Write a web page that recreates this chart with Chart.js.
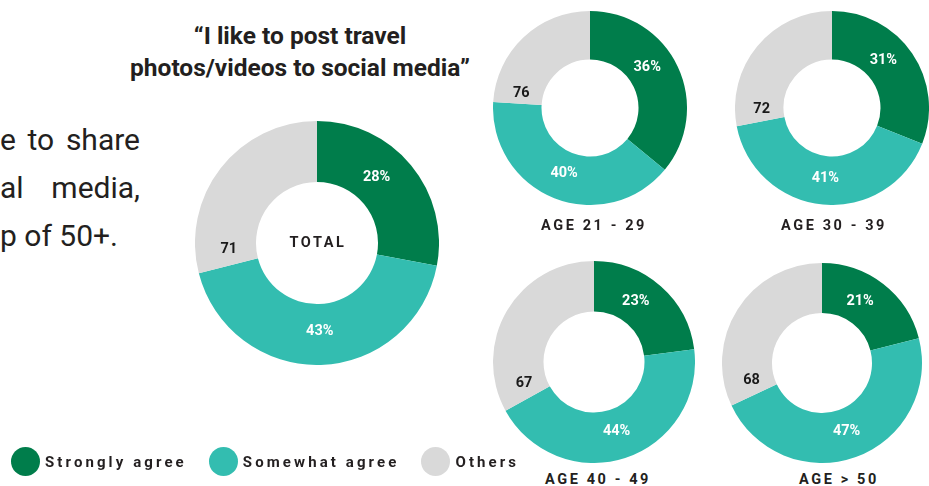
<!DOCTYPE html>
<html lang="en">
<head>
<meta charset="UTF-8">
<title>Travel posting by age</title>
<script src="https://cdn.jsdelivr.net/npm/chart.js@4.4.1/dist/chart.umd.min.js"></script>
<style>
  body { margin:0; width:929px; height:486px; overflow:hidden; background:#fff; position:relative;
         font-family:Roboto, "Noto Sans", sans-serif; color:#231f20; }
  .abs { position:absolute; }
  .para { font-size:30px; line-height:48px; left:0; width:140px; }
  .just { display:flex; justify-content:space-between; }
  .title { left:100px; width:400px; top:20px; text-align:center; font-weight:700; font-size:24.5px; line-height:32px; }
  .donut { position:absolute; }
  .group { font-weight:700; font-size:14.5px; letter-spacing:2.6px; text-align:center; width:200px; }
  .legend { top:447px; left:11px; display:flex; align-items:center; font-weight:700; font-size:15px; letter-spacing:3.1px; }
  .legend span.dot { width:29px; height:29px; border-radius:50%; display:inline-block; margin-right:5px; }
  .legend span.txt { margin-right:22px; }
</style>
</head>
<body>
  <div class="abs para just" style="top:116px;"><span>e</span><span>to</span><span>share</span></div>
  <div class="abs para just" style="top:164px;"><span>al</span><span>media,</span></div>
  <div class="abs para" style="top:212px;">p of 50+.</div>

  <div class="abs title">“I like to post travel<br>photos/videos to social media”</div>

  <div id="charts"></div>
  <div class="abs legend" id="legend"></div>

<script>
const categories = ['Strongly agree', 'Somewhat agree', 'Others'];
const groups = ['TOTAL', 'AGE 21 - 29', 'AGE 30 - 39', 'AGE 40 - 49', 'AGE > 50'];
const stronglyAgree = [28, 36, 31, 23, 21];
const somewhatAgree = [43, 40, 41, 44, 47];
const others = [29, 24, 28, 33, 32];

const colors = ['#007d4b', '#33bdb0', '#d9d9d9'];

// where each donut sits on the page (left, top, size) and where its caption goes
const boxes = [
  {left:195, top:121, size:244, capX:null, capY:null},
  {left:493, top:11,  size:194, capX:594, capY:217},
  {left:735, top:11,  size:194, capX:834, capY:217},
  {left:493, top:261, size:202, capX:598, capY:471},
  {left:722, top:263, size:200, capX:839, capY:471}
];
// position of the label inside each slice (fraction of the sweep)
const labelAt = [0.42, 0.5, 0.1];

const sliceLabels = {
  id: 'sliceLabels',
  afterDatasetsDraw(chart) {
    const ctx = chart.ctx;
    const vals = chart.data.datasets[0].data;
    chart.getDatasetMeta(0).data.forEach((arc, i) => {
      const p = arc.getProps(['x', 'y', 'startAngle', 'endAngle', 'innerRadius', 'outerRadius'], true);
      const a = p.startAngle + (p.endAngle - p.startAngle) * labelAt[i];
      const r = p.innerRadius + (p.outerRadius - p.innerRadius) * 0.45;
      // grey slice shows the combined agree score
      const txt = i < 2 ? vals[i] + '%' : String(vals[0] + vals[1]);
      ctx.save();
      ctx.font = 'bold 14.5px Roboto';
      ctx.fillStyle = i < 2 ? '#ffffff' : '#1a1a1a';
      ctx.textAlign = 'center';
      ctx.textBaseline = 'middle';
      ctx.fillText(txt, p.x + Math.cos(a) * r, p.y + Math.sin(a) * r);
      ctx.restore();
    });
  }
};

const holder = document.getElementById('charts');
groups.forEach((g, k) => {
  const b = boxes[k];
  const div = document.createElement('div');
  div.className = 'donut';
  div.style.left = b.left + 'px';
  div.style.top = b.top + 'px';
  div.style.width = b.size + 'px';
  div.style.height = b.size + 'px';
  const cv = document.createElement('canvas');
  div.appendChild(cv);
  holder.appendChild(div);

  const c = document.createElement('div');
  c.className = 'abs group';
  c.textContent = g;
  if (k === 0) {
    c.style.left = (b.size / 2 - 100 + 1) + 'px';
    c.style.top = (b.size / 2 - 9) + 'px';
    div.appendChild(c);
  } else {
    c.style.left = (b.capX - 100) + 'px';
    c.style.top = b.capY + 'px';
    holder.appendChild(c);
  }

  new Chart(cv, {
    type: 'doughnut',
    data: {
      labels: categories,
      datasets: [{
        data: [stronglyAgree[k], somewhatAgree[k], others[k]],
        backgroundColor: colors,
        borderWidth: 0,
        hoverOffset: 0
      }]
    },
    options: {
      responsive: true,
      maintainAspectRatio: false,
      animation: false,
      cutout: '50%',
      layout: { padding: 0 },
      plugins: { legend: { display: false }, tooltip: { enabled: false } }
    },
    plugins: [sliceLabels]
  });
});

const legend = document.getElementById('legend');
categories.forEach((c, i) => {
  legend.innerHTML += '<span class="dot" style="background:' + colors[i] + '"></span><span class="txt">' + c + '</span>';
});
</script>
</body>
</html>
